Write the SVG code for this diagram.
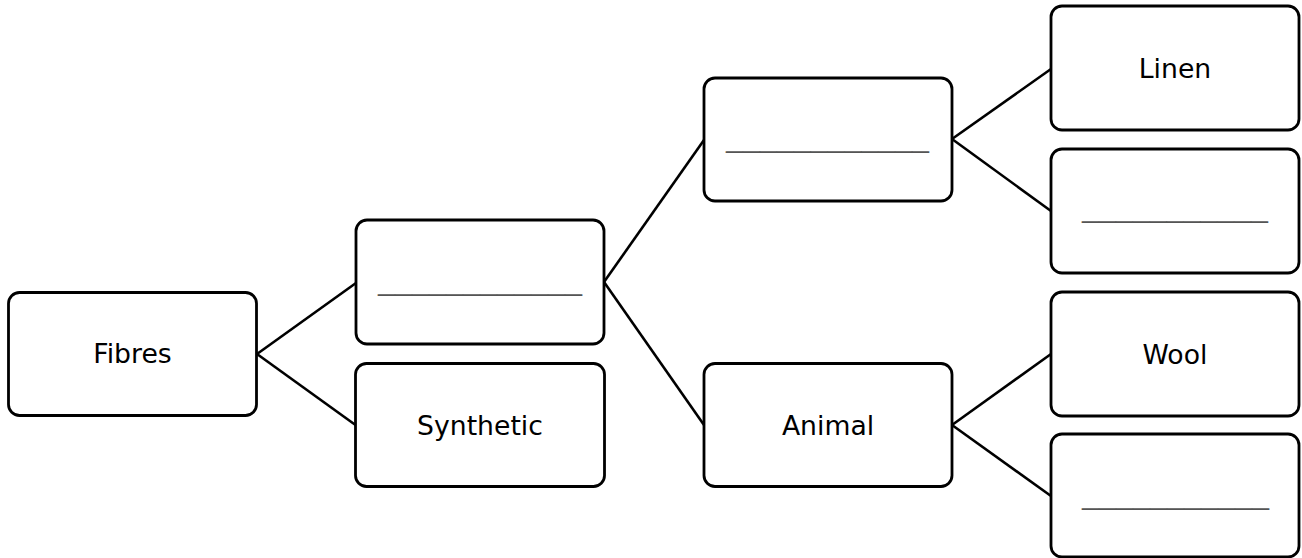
<svg xmlns="http://www.w3.org/2000/svg" width="1302" height="558" viewBox="0 0 1302 558">
<style>
.box{fill:#fff;stroke:#000;stroke-width:2.8}
.lbl{font-family:"DejaVu Sans",Verdana,sans-serif;font-size:26.67px;fill:#000;text-anchor:middle}
.blank{font-family:"DejaVu Sans",Verdana,sans-serif;font-size:26.67px;fill:#555}
.conn line{stroke:#000;stroke-width:2.6}
</style>
<rect width="1302" height="558" fill="#fff"/>
<g class="conn" id="connectors">
<line x1="257" y1="354" x2="356" y2="283"/>
<line x1="257" y1="354" x2="355.5" y2="425"/>
<line x1="604" y1="282" x2="704" y2="140"/>
<line x1="604" y1="282" x2="704" y2="425"/>
<line x1="952" y1="139" x2="1051" y2="69"/>
<line x1="952" y1="139" x2="1051" y2="211"/>
<line x1="952" y1="425" x2="1051" y2="354"/>
<line x1="952" y1="425" x2="1051" y2="496"/>
</g>
<g id="fibres"><rect class="box" x="8.5" y="292.5" width="248" height="123" rx="11"/><text class="lbl" x="132.5" y="363">Fibres</text></g>
<g id="blank1"><rect class="box" x="356" y="220" width="248" height="124" rx="11"/><text class="blank" x="378" y="289.5" textLength="204" lengthAdjust="spacingAndGlyphs">____________</text></g>
<g id="synthetic"><rect class="box" x="355.5" y="363.5" width="249" height="123" rx="11"/><text class="lbl" x="480" y="435">Synthetic</text></g>
<g id="blank2"><rect class="box" x="704" y="78" width="248" height="123" rx="11"/><text class="blank" x="726" y="146.5" textLength="203" lengthAdjust="spacingAndGlyphs">____________</text></g>
<g id="animal"><rect class="box" x="704" y="363.5" width="248" height="123" rx="11"/><text class="lbl" x="828" y="435">Animal</text></g>
<g id="linen"><rect class="box" x="1051" y="6" width="248" height="124" rx="11"/><text class="lbl" x="1175" y="78">Linen</text></g>
<g id="blank3"><rect class="box" x="1051" y="149" width="248" height="124" rx="11"/><text class="blank" x="1082" y="216.5" textLength="186" lengthAdjust="spacingAndGlyphs">___________</text></g>
<g id="wool"><rect class="box" x="1051" y="292" width="248" height="124" rx="11"/><text class="lbl" x="1175" y="364">Wool</text></g>
<g id="blank4"><rect class="box" x="1051" y="434" width="248" height="123" rx="11"/><text class="blank" x="1082" y="503.5" textLength="187" lengthAdjust="spacingAndGlyphs">___________</text></g>
</svg>
